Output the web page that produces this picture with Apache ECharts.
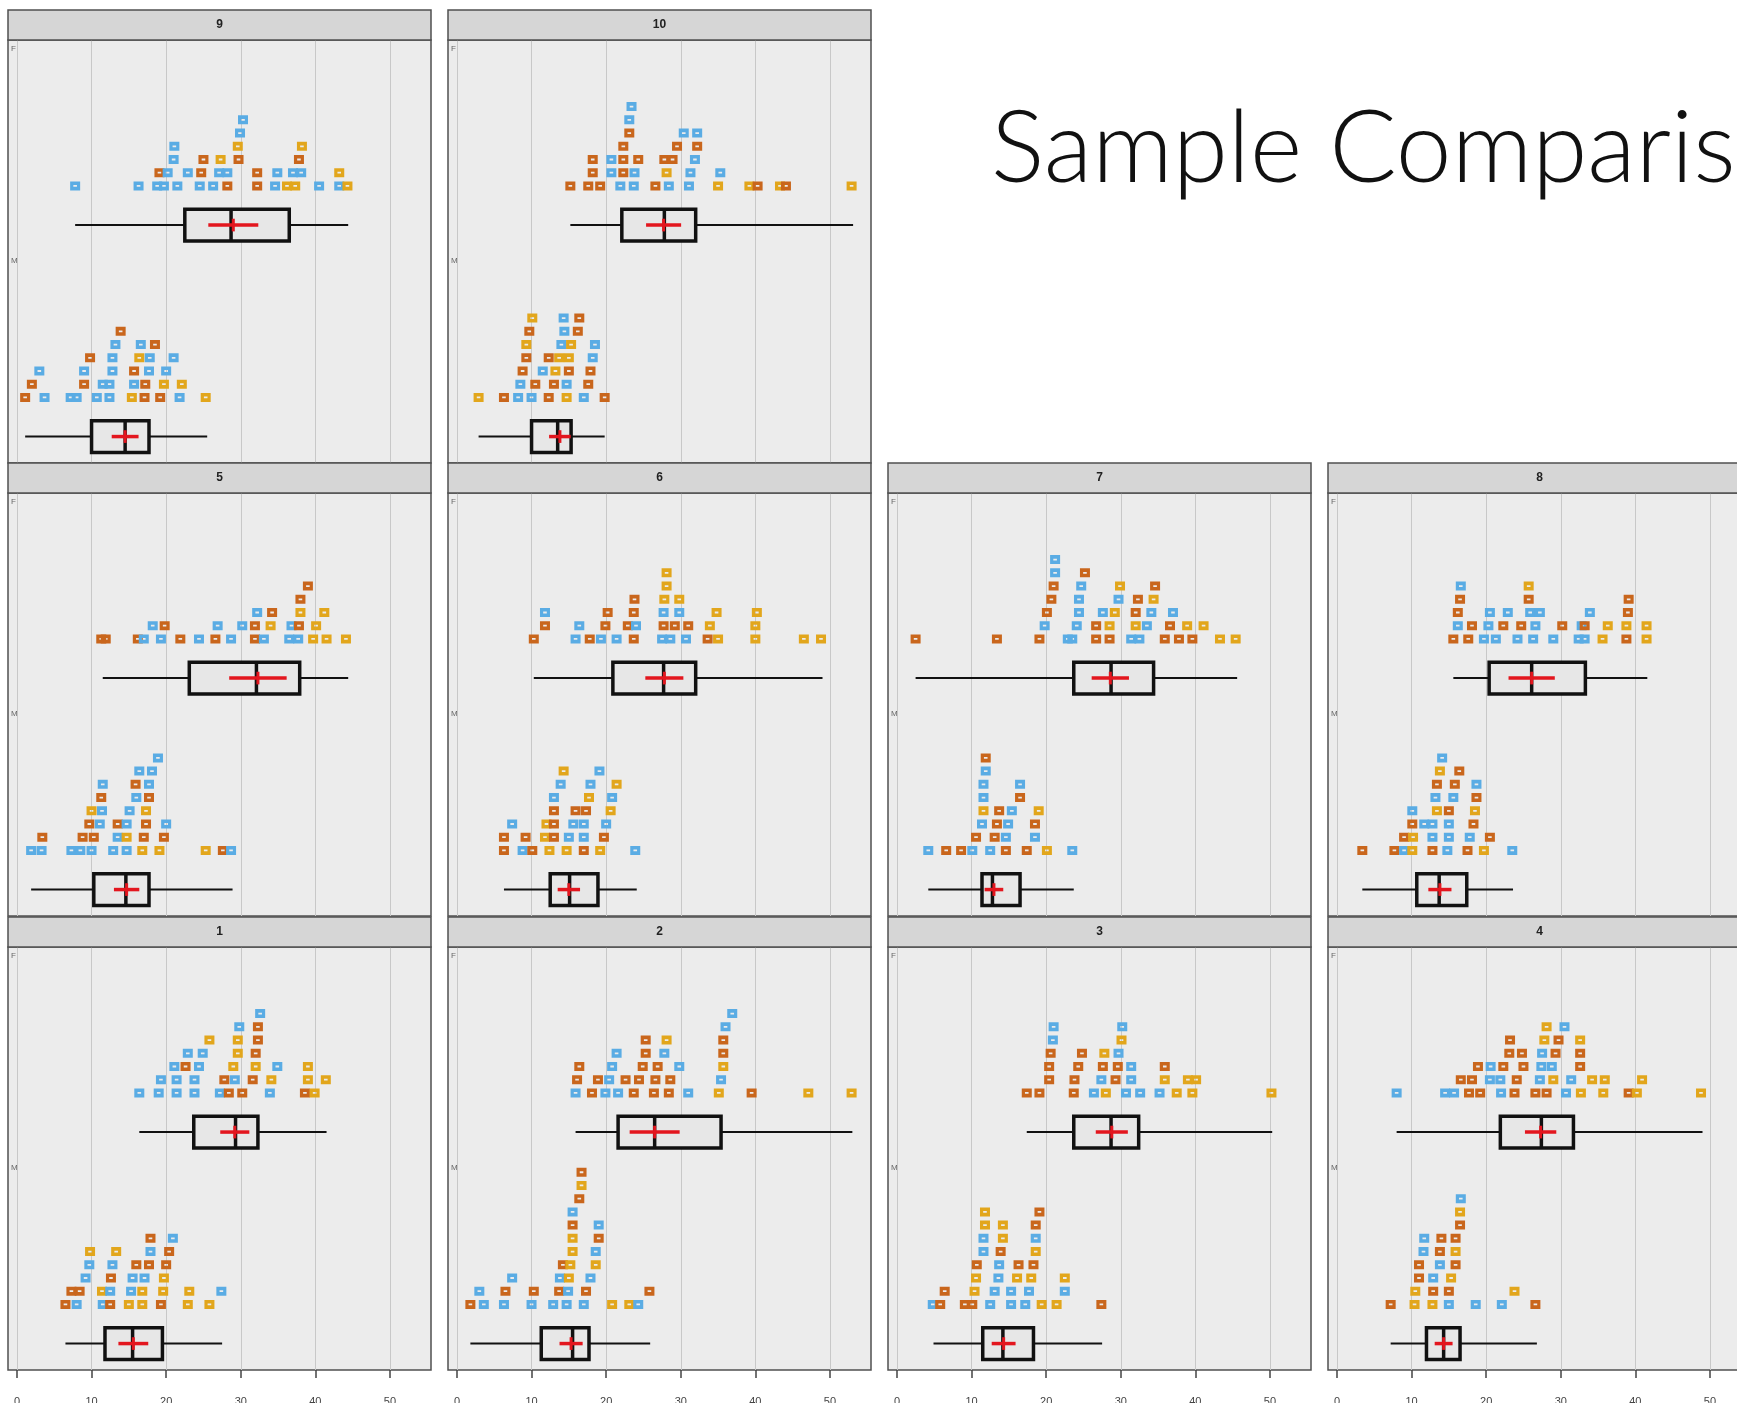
<!DOCTYPE html>
<html><head><meta charset="utf-8">
<script src="https://cdn.jsdelivr.net/npm/echarts@6/dist/echarts.min.js"></script>
<style>html,body{margin:0;padding:0;background:#fff;overflow:hidden}#c{width:1737px;height:1403px}</style>
</head><body><div id="c"></div>
<script>
// ---------- DATA ----------
// Each dot: [value, stack level, colour code]  (b = blue, o = orange, y = yellow)
// Each box: [whisker low, Q1, median, Q3, whisker high, mean, mean-bar half width]
const xTicks = [0, 10, 20, 30, 40, 50];
const xTickLabels = ['0', '10', '20', '30', '40', '50'];
const groupLabels = ['M', 'F'];
const panelNames = ['9', '10', '5', '6', '7', '8', '1', '2', '3', '4'];
const titleText = 'Sample Comparison';

const p9F = [[7.8,0,'b'],[16.3,0,'b'],[18.8,0,'b'],[19.7,0,'b'],[21.5,0,'b'],[24.5,0,'b'],[26.3,0,'b'],[28.2,0,'o'],[32.2,0,'o'],[34.6,0,'b'],[36.2,0,'y'],[37.3,0,'y'],[40.5,0,'b'],[43.2,0,'b'],[44.3,0,'y'],
[19.1,1,'o'],[20.2,1,'b'],[22.9,1,'b'],[24.7,1,'o'],[27.1,1,'b'],[28.2,1,'b'],[32.2,1,'o'],[34.9,1,'b'],[37.0,1,'b'],[38.1,1,'b'],[43.2,1,'y'],
[21.0,2,'b'],[25.0,2,'o'],[27.3,2,'y'],[29.7,2,'o'],[37.8,2,'o'],
[21.1,3,'b'],[29.6,3,'y'],[38.2,3,'y'],[29.9,4,'b'],[30.3,5,'b']];
const p9M = [[1.1,0,'o'],[3.7,0,'b'],[7.2,0,'b'],[8.0,0,'b'],[10.7,0,'b'],[12.4,0,'b'],[15.4,0,'y'],[17.1,0,'o'],[19.2,0,'o'],[21.8,0,'b'],[25.3,0,'y'],
[2.0,1,'o'],[9.0,1,'o'],[11.5,1,'b'],[12.4,1,'b'],[15.7,1,'b'],[17.2,1,'o'],[19.7,1,'y'],[22.1,1,'y'],
[3.0,2,'b'],[9.0,2,'b'],[12.8,2,'b'],[15.7,2,'o'],[17.7,2,'b'],[20.0,2,'b'],
[9.8,3,'o'],[12.8,3,'b'],[16.4,3,'y'],[17.8,3,'b'],[21.0,3,'b'],
[13.2,4,'b'],[16.6,4,'b'],[18.5,4,'o'],[13.9,5,'o']];
const box9F = [7.8, 22.5, 28.7, 36.5, 44.4, 29.0, 3.35];
const box9M = [1.1, 10.0, 14.5, 17.7, 25.5, 14.5, 1.8];

const p10F = [[15.2,0,'o'],[17.6,0,'o'],[19.2,0,'o'],[21.9,0,'b'],[23.7,0,'b'],[26.6,0,'o'],[28.4,0,'b'],[31.1,0,'b'],[35.0,0,'y'],[39.2,0,'y'],[40.3,0,'o'],[43.3,0,'y'],[44.1,0,'o'],[52.9,0,'y'],
[18.2,1,'o'],[20.7,1,'b'],[22.3,1,'o'],[23.8,1,'b'],[28.1,1,'y'],[31.3,1,'b'],[35.3,1,'b'],
[18.2,2,'o'],[20.7,2,'b'],[22.3,2,'o'],[24.3,2,'o'],[27.8,2,'o'],[28.9,2,'o'],[31.9,2,'b'],
[22.3,3,'o'],[29.5,3,'o'],[32.2,3,'o'],[23.1,4,'o'],[30.4,4,'b'],[32.2,4,'b'],[23.1,5,'b'],[23.4,6,'b']];
const p10M = [[2.9,0,'y'],[6.3,0,'o'],[8.2,0,'b'],[10.0,0,'b'],[12.3,0,'o'],[14.7,0,'y'],[17.0,0,'b'],[19.8,0,'o'],
[8.5,1,'b'],[10.5,1,'o'],[13.0,1,'o'],[14.7,1,'b'],[17.6,1,'o'],
[8.8,2,'o'],[11.5,2,'b'],[13.2,2,'y'],[15.0,2,'o'],[17.9,2,'o'],
[9.3,3,'o'],[12.3,3,'o'],[13.7,3,'y'],[15.0,3,'y'],[18.2,3,'b'],
[9.3,4,'y'],[14.0,4,'b'],[15.3,4,'y'],[18.5,4,'b'],
[9.7,5,'o'],[14.4,5,'b'],[16.2,5,'o'],[10.1,6,'y'],[14.3,6,'b'],[16.4,6,'o']];
const box10F = [15.2, 22.1, 27.8, 32.0, 53.1, 27.7, 2.35];
const box10M = [2.9, 10.0, 13.5, 15.3, 19.8, 13.8, 1.45];

const p5F = [[11.3,0,'o'],[11.9,0,'o'],[16.2,0,'o'],[17.0,0,'b'],[19.3,0,'b'],[21.9,0,'o'],[24.4,0,'b'],[26.6,0,'o'],[28.7,0,'b'],[31.9,0,'o'],[33.1,0,'b'],[36.5,0,'b'],[37.7,0,'b'],[39.7,0,'y'],[41.5,0,'y'],[44.1,0,'y'],
[18.2,1,'b'],[19.8,1,'o'],[26.9,1,'b'],[30.2,1,'b'],[31.9,1,'o'],[34.0,1,'y'],[36.8,1,'b'],[37.8,1,'o'],[40.1,1,'y'],
[32.2,2,'b'],[34.2,2,'o'],[38.0,2,'y'],[41.2,2,'y'],[38.0,3,'o'],[39.0,4,'o']];
const p5M = [[1.9,0,'b'],[3.3,0,'b'],[7.3,0,'b'],[8.5,0,'b'],[10.0,0,'b'],[12.9,0,'b'],[14.7,0,'b'],[16.8,0,'y'],[19.1,0,'y'],[25.3,0,'y'],[27.6,0,'o'],[28.7,0,'b'],
[3.4,1,'o'],[8.8,1,'o'],[10.3,1,'o'],[13.5,1,'b'],[14.7,1,'y'],[17.0,1,'o'],[19.7,1,'o'],
[9.7,2,'o'],[11.1,2,'b'],[13.5,2,'o'],[14.7,2,'b'],[17.3,2,'o'],[20.0,2,'b'],
[10.0,3,'y'],[11.4,3,'b'],[15.1,3,'b'],[17.3,3,'y'],
[11.3,4,'o'],[16.0,4,'b'],[17.7,4,'o'],[11.5,5,'b'],[15.9,5,'o'],[17.7,5,'b'],
[16.4,6,'b'],[18.1,6,'b'],[18.9,7,'b']];
const box5F = [11.5, 23.1, 32.1, 37.9, 44.4, 32.3, 3.85];
const box5M = [1.9, 10.3, 14.6, 17.7, 28.9, 14.7, 1.7];

const p6F = [[10.3,0,'o'],[15.9,0,'b'],[17.8,0,'o'],[19.3,0,'b'],[21.4,0,'b'],[23.7,0,'o'],[27.5,0,'b'],[28.6,0,'b'],[30.7,0,'b'],[33.6,0,'o'],[35.0,0,'y'],[40.0,0,'y'],[46.5,0,'y'],[48.8,0,'y'],
[11.8,1,'o'],[16.4,1,'b'],[19.9,1,'o'],[22.9,1,'o'],[24.0,1,'b'],[27.7,1,'o'],[29.2,1,'o'],[31.0,1,'o'],[33.9,1,'y'],[40.0,1,'y'],
[11.8,2,'b'],[20.2,2,'o'],[23.7,2,'o'],[27.7,2,'b'],[29.8,2,'b'],[34.8,2,'y'],[40.2,2,'y'],
[23.8,3,'o'],[27.8,3,'y'],[29.8,3,'y'],[28.1,4,'y'],[28.1,5,'y']];
const p6M = [[6.3,0,'o'],[8.8,0,'b'],[10.1,0,'o'],[12.4,0,'y'],[14.7,0,'y'],[17.0,0,'o'],[19.2,0,'y'],[23.9,0,'b'],
[6.3,1,'o'],[9.2,1,'o'],[11.8,1,'y'],[13.0,1,'o'],[15.0,1,'b'],[17.0,1,'b'],[19.7,1,'o'],
[7.4,2,'b'],[12.0,2,'y'],[13.0,2,'o'],[15.6,2,'b'],[17.0,2,'b'],[20.0,2,'b'],
[13.0,3,'o'],[15.9,3,'o'],[17.3,3,'o'],[20.6,3,'y'],
[13.0,4,'b'],[17.7,4,'y'],[20.8,4,'b'],[13.9,5,'b'],[17.9,5,'b'],[21.4,5,'y'],[14.3,6,'y'],[19.1,6,'b']];
const box6F = [10.3, 20.9, 27.7, 32.0, 49.0, 27.8, 2.55];
const box6M = [6.3, 12.5, 15.1, 18.9, 24.1, 15.0, 1.5];

const p7F = [[2.5,0,'o'],[13.4,0,'o'],[19.1,0,'o'],[22.9,0,'b'],[23.5,0,'b'],[26.7,0,'o'],[28.5,0,'o'],[31.4,0,'b'],[32.5,0,'b'],[35.9,0,'o'],[37.8,0,'o'],[39.6,0,'o'],[43.3,0,'y'],[45.4,0,'y'],
[19.8,1,'b'],[24.1,1,'b'],[26.7,1,'o'],[28.5,1,'y'],[32.0,1,'y'],[33.5,1,'b'],[36.6,1,'o'],[38.9,1,'y'],[41.1,1,'y'],
[20.1,2,'o'],[24.4,2,'b'],[27.6,2,'b'],[29.2,2,'y'],[32.0,2,'o'],[34.1,2,'b'],[37.0,2,'b'],
[20.7,3,'o'],[24.4,3,'b'],[29.7,3,'b'],[32.3,3,'o'],[34.4,3,'y'],
[21.0,4,'o'],[24.7,4,'b'],[29.9,4,'y'],[34.6,4,'o'],[21.2,5,'b'],[25.2,5,'o'],[21.2,6,'b']];
const p7M = [[4.2,0,'b'],[6.6,0,'o'],[8.6,0,'o'],[10.1,0,'b'],[12.5,0,'b'],[14.6,0,'o'],[17.4,0,'o'],[20.1,0,'y'],[23.5,0,'b'],
[10.6,1,'o'],[13.1,1,'o'],[14.6,1,'b'],[18.5,1,'b'],
[11.4,2,'b'],[13.4,2,'o'],[14.9,2,'b'],[18.5,2,'o'],
[11.6,3,'y'],[13.7,3,'o'],[15.4,3,'b'],[19.0,3,'y'],
[11.6,4,'b'],[16.5,4,'o'],[11.6,5,'b'],[16.5,5,'b'],[11.9,6,'b'],[11.9,7,'o']];
const box7F = [2.5, 23.7, 28.7, 34.4, 45.6, 28.6, 2.5];
const box7M = [4.2, 11.4, 12.8, 16.5, 23.7, 13.0, 1.25];

const p8F = [[15.6,0,'o'],[17.6,0,'o'],[19.7,0,'b'],[21.3,0,'b'],[24.2,0,'b'],[26.3,0,'b'],[29.0,0,'b'],[32.4,0,'b'],[33.2,0,'b'],[35.6,0,'y'],[38.8,0,'o'],[41.5,0,'y'],
[16.2,1,'b'],[18.1,1,'o'],[20.3,1,'b'],[22.3,1,'o'],[24.7,1,'o'],[26.6,1,'b'],[30.2,1,'o'],[32.8,1,'b'],[33.2,1,'o'],[36.3,1,'y'],[38.8,1,'y'],[41.5,1,'y'],
[16.2,2,'o'],[20.5,2,'b'],[22.9,2,'b'],[25.9,2,'b'],[27.2,2,'b'],[33.9,2,'b'],[39.0,2,'o'],
[16.5,3,'o'],[25.7,3,'o'],[39.1,3,'o'],[16.6,4,'b'],[25.7,4,'y']];
const p8M = [[3.4,0,'o'],[7.7,0,'o'],[9.0,0,'b'],[10.1,0,'y'],[12.8,0,'o'],[14.8,0,'b'],[17.5,0,'o'],[19.7,0,'y'],[23.5,0,'b'],
[9.0,1,'o'],[10.2,1,'y'],[12.8,1,'b'],[15.0,1,'b'],[17.8,1,'b'],[20.5,1,'o'],
[10.1,2,'o'],[11.7,2,'b'],[12.8,2,'b'],[15.0,2,'b'],[18.3,2,'o'],
[10.1,3,'b'],[13.4,3,'y'],[15.0,3,'o'],[18.5,3,'y'],
[13.2,4,'b'],[15.6,4,'b'],[18.7,4,'o'],[13.4,5,'o'],[15.8,5,'o'],[18.7,5,'b'],
[13.8,6,'y'],[16.4,6,'o'],[14.1,7,'b']];
const box8F = [15.6, 20.4, 26.1, 33.3, 41.6, 26.1, 3.1];
const box8M = [3.4, 10.7, 13.7, 17.4, 23.6, 13.8, 1.55];

const p1F = [[16.4,0,'b'],[19.0,0,'b'],[21.4,0,'b'],[23.8,0,'b'],[27.2,0,'b'],[28.4,0,'o'],[30.2,0,'o'],[33.9,0,'b'],[38.6,0,'o'],[39.9,0,'y'],
[19.3,1,'b'],[21.4,1,'b'],[23.8,1,'b'],[27.8,1,'o'],[29.2,1,'b'],[31.6,1,'o'],[34.1,1,'y'],[39.0,1,'y'],[41.4,1,'y'],
[21.1,2,'b'],[22.6,2,'o'],[24.4,2,'b'],[29.0,2,'y'],[32.0,2,'y'],[34.9,2,'b'],[39.0,2,'y'],
[22.9,3,'b'],[24.9,3,'b'],[29.6,3,'y'],[32.0,3,'o'],
[25.8,4,'y'],[29.6,4,'y'],[32.3,4,'o'],[29.8,5,'b'],[32.3,5,'o'],[32.6,6,'b']];
const p1M = [[6.5,0,'o'],[8.0,0,'b'],[11.5,0,'b'],[12.5,0,'o'],[15.0,0,'y'],[16.8,0,'y'],[19.3,0,'o'],[22.9,0,'y'],[25.8,0,'y'],
[7.3,1,'o'],[8.4,1,'o'],[11.4,1,'y'],[12.5,1,'b'],[15.3,1,'b'],[16.8,1,'y'],[19.6,1,'y'],[23.1,1,'y'],[27.4,1,'b'],
[9.2,2,'b'],[12.6,2,'o'],[15.5,2,'b'],[17.1,2,'b'],[19.7,2,'y'],
[9.7,3,'b'],[12.8,3,'b'],[16.0,3,'o'],[17.7,3,'o'],[20.0,3,'o'],
[9.8,4,'y'],[13.3,4,'y'],[17.9,4,'b'],[20.4,4,'o'],[17.9,5,'o'],[20.9,5,'b']];
const box1F = [16.4, 23.7, 29.3, 32.3, 41.5, 29.2, 1.95];
const box1M = [6.5, 11.8, 15.5, 19.5, 27.5, 15.6, 2.0];

const p2F = [[15.9,0,'b'],[18.1,0,'o'],[19.9,0,'b'],[21.6,0,'b'],[23.7,0,'o'],[26.4,0,'o'],[28.4,0,'o'],[31.0,0,'b'],[35.1,0,'y'],[39.5,0,'o'],[47.1,0,'y'],[52.9,0,'y'],
[16.1,1,'o'],[18.9,1,'o'],[20.4,1,'b'],[22.6,1,'o'],[24.4,1,'o'],[26.6,1,'o'],[28.6,1,'o'],[35.4,1,'b'],
[16.4,2,'o'],[20.8,2,'b'],[24.9,2,'o'],[26.9,2,'o'],[29.8,2,'b'],[35.7,2,'y'],
[21.4,3,'b'],[25.3,3,'o'],[27.8,3,'b'],[35.7,3,'o'],
[25.3,4,'o'],[28.1,4,'y'],[35.7,4,'o'],[36.0,5,'b'],[36.9,6,'b']];
const p2M = [[1.8,0,'o'],[3.6,0,'b'],[6.3,0,'b'],[10.0,0,'b'],[12.9,0,'b'],[14.7,0,'b'],[17.0,0,'b'],[20.8,0,'y'],[23.1,0,'y'],[24.3,0,'b'],
[3.0,1,'b'],[6.5,1,'o'],[10.3,1,'o'],[13.7,1,'o'],[14.9,1,'b'],[17.3,1,'o'],[25.8,1,'o'],
[7.4,2,'b'],[13.8,2,'b'],[15.0,2,'y'],[17.9,2,'b'],
[14.2,3,'o'],[15.2,3,'y'],[18.6,3,'y'],[15.5,4,'y'],[18.6,4,'b'],
[15.5,5,'y'],[19.0,5,'o'],[15.5,6,'o'],[19.0,6,'b'],
[15.5,7,'b'],[16.4,8,'o'],[16.7,9,'y'],[16.7,10,'o']];
const box2F = [15.9, 21.6, 26.5, 35.4, 53.0, 26.5, 3.35];
const box2M = [1.8, 11.3, 15.5, 17.7, 25.9, 15.3, 1.55];

const p3F = [[17.4,0,'o'],[19.1,0,'o'],[23.7,0,'o'],[26.4,0,'b'],[28.0,0,'y'],[30.7,0,'b'],[32.6,0,'b'],[35.2,0,'b'],[37.5,0,'y'],[39.6,0,'y'],[50.2,0,'y'],
[20.4,1,'o'],[23.8,1,'o'],[27.4,1,'b'],[29.3,1,'o'],[31.4,1,'b'],[35.9,1,'y'],[39.0,1,'y'],[40.1,1,'y'],
[20.4,2,'o'],[24.3,2,'o'],[27.6,2,'o'],[29.6,2,'o'],[31.4,2,'b'],[35.9,2,'o'],
[20.6,3,'o'],[24.8,3,'o'],[27.8,3,'y'],[29.7,3,'b'],
[20.9,4,'b'],[30.1,4,'y'],[21.0,5,'b'],[30.2,5,'b']];
const p3M = [[4.8,0,'b'],[5.8,0,'o'],[9.1,0,'o'],[10.1,0,'o'],[12.5,0,'b'],[15.3,0,'b'],[17.2,0,'b'],[19.4,0,'y'],[21.4,0,'y'],[27.4,0,'o'],
[6.4,1,'o'],[10.4,1,'y'],[13.1,1,'b'],[15.3,1,'b'],[17.7,1,'b'],[22.5,1,'b'],
[10.6,2,'y'],[13.6,2,'b'],[16.1,2,'y'],[18.0,2,'y'],[22.5,2,'y'],
[10.7,3,'o'],[13.7,3,'b'],[16.3,3,'o'],[18.3,3,'o'],
[11.6,4,'b'],[13.9,4,'o'],[18.6,4,'y'],[11.6,5,'b'],[14.2,5,'y'],[18.6,5,'b'],
[11.8,6,'y'],[14.2,6,'y'],[18.6,6,'o'],[11.8,7,'y'],[19.1,7,'o']];
const box3F = [17.4, 23.7, 28.7, 32.4, 50.3, 28.8, 2.15];
const box3M = [4.9, 11.5, 14.2, 18.3, 27.5, 14.3, 1.6];

const p4F = [[8.0,0,'b'],[14.5,0,'b'],[15.7,0,'b'],[17.7,0,'o'],[19.2,0,'o'],[22.0,0,'b'],[23.8,0,'o'],[26.6,0,'o'],[28.1,0,'o'],[30.7,0,'b'],[32.7,0,'y'],[35.7,0,'y'],[39.1,0,'o'],[40.2,0,'y'],[48.8,0,'y'],
[16.6,1,'o'],[18.1,1,'o'],[20.5,1,'b'],[21.9,1,'b'],[24.1,1,'o'],[27.2,1,'b'],[29.0,1,'y'],[31.4,1,'b'],[34.2,1,'y'],[35.9,1,'y'],[40.9,1,'y'],
[18.9,2,'o'],[20.6,2,'b'],[22.3,2,'o'],[25.0,2,'o'],[27.4,2,'b'],[28.8,2,'b'],[32.6,2,'o'],
[23.1,3,'o'],[24.8,3,'o'],[27.5,3,'b'],[29.3,3,'o'],[32.6,3,'o'],
[23.2,4,'o'],[27.8,4,'y'],[29.7,4,'o'],[32.6,4,'y'],[28.1,5,'y'],[30.5,5,'b']];
const p4M = [[7.2,0,'o'],[10.4,0,'y'],[12.8,0,'y'],[15.0,0,'b'],[18.6,0,'b'],[22.1,0,'b'],[26.6,0,'o'],
[10.5,1,'y'],[12.9,1,'o'],[15.0,1,'o'],[23.8,1,'y'],
[11.0,2,'o'],[12.9,2,'b'],[15.3,2,'y'],[11.0,3,'o'],[13.8,3,'b'],[15.9,3,'o'],
[11.6,4,'b'],[13.8,4,'o'],[15.9,4,'y'],[11.7,5,'b'],[14.0,5,'o'],[15.9,5,'o'],
[16.5,6,'o'],[16.5,7,'y'],[16.6,8,'b']];
const box4F = [8.0, 21.9, 27.4, 31.7, 49.0, 27.3, 2.1];
const box4M = [7.2, 12.0, 14.3, 16.5, 26.8, 14.3, 1.2];

// ---------- LAYOUT / STYLE ----------
const panelDots = [[p9F,p9M],[p10F,p10M],[p5F,p5M],[p6F,p6M],[p7F,p7M],[p8F,p8M],[p1F,p1M],[p2F,p2M],[p3F,p3M],[p4F,p4M]];
const panelBoxes = [[box9F,box9M],[box10F,box10M],[box5F,box5M],[box6F,box6M],[box7F,box7M],[box8F,box8M],[box1F,box1M],[box2F,box2M],[box3F,box3M],[box4F,box4M]];
const panelCol = [0,1,0,1,2,3,0,1,2,3];
const panelRow = [0,0,1,1,1,1,2,2,2,2];
const GRID_L = [8, 448, 888, 1328];
const GRID_T = [40, 493, 947];
const GW = 423, GH = 423, HEAD_H = 30;
const X_MIN = -1.2, X_MAX = 55.5;
const DOT_Y0 = 0.31, DOT_STEP = 0.0625, BOX_Y = 0.125, BOX_H = 0.075, RED_V = 0.03;
const COLORS = { b: '#5AACE4', o: '#C9661C', y: '#E2A61C' };
const DOT_SYMBOL = 'path://M0 0H10V9H0Z M3.2 3.6V5.4H6.8V3.6Z';

function renderBox(params, api) {
  const g = api.value(7);
  const yc = g + BOX_Y;
  const c = (x, y) => api.coord([x, y]);
  const lo = api.value(0), q1 = api.value(1), md = api.value(2), q3 = api.value(3), hi = api.value(4), mn = api.value(5), hw = api.value(6);
  const py = c(lo, yc)[1];
  const yT = c(lo, yc + BOX_H)[1], yB = c(lo, yc - BOX_H)[1];
  const xLo = c(lo, yc)[0], xQ1 = c(q1, yc)[0], xMd = c(md, yc)[0], xQ3 = c(q3, yc)[0], xHi = c(hi, yc)[0];
  const xM1 = c(mn - hw, yc)[0], xM2 = c(mn + hw, yc)[0], xMn = c(mn, yc)[0];
  const yRT = c(mn, yc + RED_V)[1], yRB = c(mn, yc - RED_V)[1];
  return { type: 'group', children: [
    { type: 'line', shape: { x1: xLo, y1: py, x2: xQ1, y2: py }, style: { stroke: '#111', lineWidth: 2 } },
    { type: 'line', shape: { x1: xQ3, y1: py, x2: xHi, y2: py }, style: { stroke: '#111', lineWidth: 2 } },
    { type: 'rect', shape: { x: xQ1, y: yT, width: xQ3 - xQ1, height: yB - yT }, style: { fill: '#e7e7e7', stroke: '#111', lineWidth: 3.5 } },
    { type: 'line', shape: { x1: xMd, y1: yT, x2: xMd, y2: yB }, style: { stroke: '#111', lineWidth: 3.5 } },
    { type: 'line', shape: { x1: xM1, y1: py, x2: xM2, y2: py }, style: { stroke: '#E3161E', lineWidth: 3.5 } },
    { type: 'line', shape: { x1: xMn, y1: yRT, x2: xMn, y2: yRB }, style: { stroke: '#E3161E', lineWidth: 3 } }
  ]};
}

const grids = [], xAxes = [], yAxes = [], series = [], graphics = [];
panelNames.forEach((name, i) => {
  const col = panelCol[i], row = panelRow[i];
  const isBottom = row === 2;
  grids.push({ left: GRID_L[col], top: GRID_T[row], width: GW, height: GH, show: true,
    outerBoundsMode: 'none', containLabel: false,
    backgroundColor: '#ECECEC', borderColor: '#505050', borderWidth: 1.5 });
  xAxes.push({ type: 'value', gridIndex: i, min: X_MIN, max: X_MAX,
    axisLine: { show: false },
    splitLine: { show: true, lineStyle: { color: '#C8C8C8', width: 1 } },
    axisTick: { show: isBottom, customValues: xTicks, length: 8, inside: false, lineStyle: { color: '#444', width: 1.5 } },
    axisLabel: { show: isBottom, customValues: xTicks, margin: 26, fontSize: 11, color: '#444',
      formatter: v => xTickLabels[xTicks.indexOf(v)] || '' } });
  yAxes.push({ type: 'value', gridIndex: i, min: 0, max: 2,
    axisLine: { show: false }, axisTick: { show: false }, splitLine: { show: false },
    axisLabel: { show: true, inside: true, customValues: [1, 2], margin: 3, fontSize: 8, color: '#666',
      verticalAlign: 'top', padding: [5, 0, 0, 0], formatter: v => groupLabels[v - 1] || '' } });
  const dots = [];
  panelDots[i].forEach((arr, k) => {
    const g = 1 - k; // F = 1 (upper), M = 0 (lower)
    arr.forEach(d => dots.push([d[0], g + DOT_Y0 + d[1] * DOT_STEP, d[2]]));
  });
  series.push({ type: 'scatter', xAxisIndex: i, yAxisIndex: i, symbol: DOT_SYMBOL, symbolSize: [10, 9],
    data: dots, silent: true, z: 3, animation: false,
    itemStyle: { color: p => COLORS[p.data[2]], opacity: 1 } });
  series.push({ type: 'custom', xAxisIndex: i, yAxisIndex: i, renderItem: renderBox, silent: true, z: 4, animation: false,
    data: [panelBoxes[i][0].concat([1]), panelBoxes[i][1].concat([0])] });
  graphics.push({ type: 'rect', shape: { x: GRID_L[col], y: GRID_T[row] - HEAD_H, width: GW, height: HEAD_H },
    style: { fill: '#D6D6D6', stroke: '#505050', lineWidth: 1.5 }, z: 10 });
  graphics.push({ type: 'text', x: GRID_L[col] + GW / 2, y: GRID_T[row] - HEAD_H / 2,
    style: { text: name, font: 'bold 12px "Liberation Sans", Arial, sans-serif', fill: '#222',
      textAlign: 'center', textVerticalAlign: 'middle' }, z: 11 });
});
graphics.push({ type: 'text', x: 991, y: 100,
  style: { text: titleText, font: '300 100px "Lato Light", Lato, "Open Sans", sans-serif', fill: '#111',
    textAlign: 'left', textVerticalAlign: 'top' }, z: 11 });

const chart = echarts.init(document.getElementById('c'), null, { renderer: 'canvas' });
chart.setOption({
  animation: false,
  backgroundColor: '#ffffff',
  grid: grids, xAxis: xAxes, yAxis: yAxes, series: series, graphic: graphics
});
</script></body></html>
